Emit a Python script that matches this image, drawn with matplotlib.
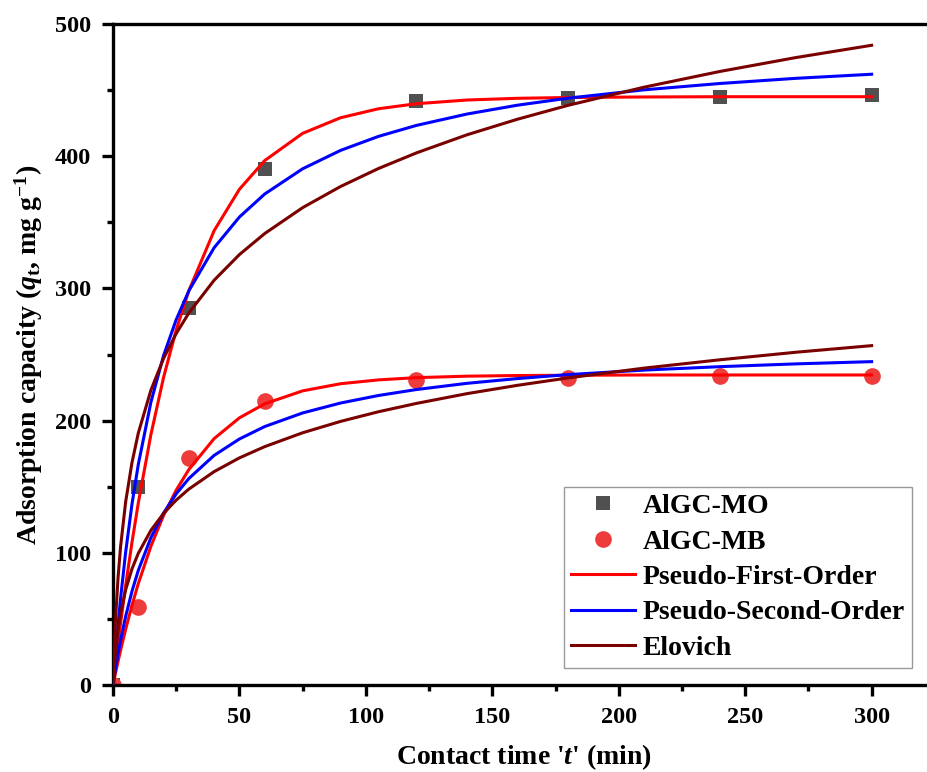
import matplotlib
matplotlib.use('Agg')
import matplotlib.pyplot as plt
from matplotlib.ticker import MultipleLocator

plt.rcParams['font.family'] = ['Liberation Serif', 'DejaVu Serif']
plt.rcParams['font.weight'] = 'bold'
plt.rcParams['mathtext.fontset'] = 'custom'
plt.rcParams['mathtext.rm'] = 'Liberation Serif:bold'
plt.rcParams['mathtext.it'] = 'Liberation Serif:bold:italic'
plt.rcParams['mathtext.bf'] = 'Liberation Serif:bold'

# experimental points
t_exp = [0, 10, 30, 60, 120, 180, 240, 300]
q_mo = [0, 150, 285, 390, 442, 444, 445, 446]
q_mb = [0, 59, 172, 215, 231, 232, 234, 234]

# fitted curves
t_fit = [0, 1, 2, 3, 5, 7.5, 10, 15, 20, 25, 30, 40, 50, 60, 75, 90, 105,
         120, 140, 160, 180, 210, 240, 270, 300]
mo_pfo = [0, 16.2, 31.7, 46.8, 75.2, 107.8, 137.6, 189.5, 232.7, 268.6, 298.3,
          343.7, 375.0, 396.7, 417.3, 429.1, 435.9, 439.7, 442.5, 443.8, 444.4,
          444.8, 445.0, 445.0, 445.0]
mo_pso = [0, 24.0, 45.8, 65.6, 100.4, 136.7, 166.8, 214.0, 249.2, 276.4, 298.2,
          330.8, 354.0, 371.4, 390.5, 404.4, 415.0, 423.3, 431.9, 438.6, 443.9,
          450.2, 455.0, 458.9, 462.0]
mo_elo = [0, 49.6, 81.3, 104.7, 138.5, 168.2, 190.5, 223.1, 247.0, 265.9, 281.4,
          306.2, 325.6, 341.5, 361.1, 377.1, 390.7, 402.5, 416.2, 428.0, 438.5,
          452.2, 464.1, 474.6, 483.9]
mb_pfo = [0, 9.1, 17.9, 26.3, 42.1, 60.2, 76.7, 105.0, 128.3, 147.4, 163.0,
          186.4, 202.1, 212.7, 222.5, 227.9, 230.8, 232.5, 233.6, 234.1, 234.3,
          234.5, 234.5, 234.5, 234.5]
mb_pso = [0, 12.4, 23.6, 33.9, 51.9, 70.9, 86.7, 111.5, 130.1, 144.6, 156.2,
          173.7, 186.1, 195.5, 205.8, 213.3, 219.0, 223.5, 228.2, 231.8, 234.8,
          238.2, 240.8, 242.9, 244.6]
mb_elo = [0, 25.4, 41.9, 54.2, 72.0, 87.8, 99.6, 117.0, 129.8, 139.9, 148.2,
          161.4, 171.8, 180.3, 190.8, 199.4, 206.7, 213.0, 220.4, 226.7, 232.3,
          239.7, 246.0, 251.7, 256.7]

fig = plt.figure(figsize=(9.27, 7.72), dpi=100)
ax = fig.add_axes([113 / 927, 1 - 685 / 772, 813 / 927, 661 / 772])

ax.plot(t_exp, q_mo, 's', color='#505050', ms=10.3, mew=0, label='AlGC-MO', zorder=2)
ax.plot(t_exp, q_mb, 'o', color='#ee3b3b', ms=12, mew=0, label='AlGC-MB', zorder=2)

lw = 2.2
ax.plot(t_fit, mo_pfo, color='#ff0000', lw=lw, label='Pseudo-First-Order', zorder=3)
ax.plot(t_fit, mo_pso, color='#0000ff', lw=lw, label='Pseudo-Second-Order', zorder=3)
ax.plot(t_fit, mo_elo, color='#7a0000', lw=lw, label='Elovich', zorder=3)
ax.plot(t_fit, mb_pfo, color='#ff0000', lw=lw, zorder=3)
ax.plot(t_fit, mb_pso, color='#0000ff', lw=lw, zorder=3)
ax.plot(t_fit, mb_elo, color='#7a0000', lw=lw, zorder=3)

ax.set_xlim(0, 321.5)
ax.set_ylim(0, 500)
ax.xaxis.set_major_locator(MultipleLocator(50))
ax.xaxis.set_minor_locator(MultipleLocator(25))
ax.yaxis.set_major_locator(MultipleLocator(100))
ax.yaxis.set_minor_locator(MultipleLocator(50))

for s in ['left', 'bottom', 'top']:
    ax.spines[s].set_linewidth(2.4)
ax.spines['right'].set_visible(False)
ax.tick_params(which='both', direction='out', width=2.4, labelsize=17.5,
               top=False, right=False, pad=8)
ax.tick_params(which='major', length=8)
ax.tick_params(which='minor', length=4)

ax.set_xlabel("Contact time '$\\mathit{t}$' (min)", fontsize=20, fontweight='bold')
ax.set_ylabel(r'Adsorption capacity ($\mathit{q}_{\mathrm{t}}$, mg g$^{\mathrm{-1}}$)',
              fontsize=20, fontweight='bold')
ax.xaxis.set_label_coords(0.505, -0.086)
ax.yaxis.set_label_coords(-0.0836, 0.5)

leg = ax.legend(loc='lower right', bbox_to_anchor=(0.983, 0.026), borderaxespad=0,
                fontsize=20, frameon=True, fancybox=False, edgecolor='#808080',
                handlelength=2.3, labelspacing=0.36, handletextpad=0.3,
                borderpad=0.25)
leg.get_frame().set_linewidth(1.0)

fig.savefig('out.png', dpi=100)
